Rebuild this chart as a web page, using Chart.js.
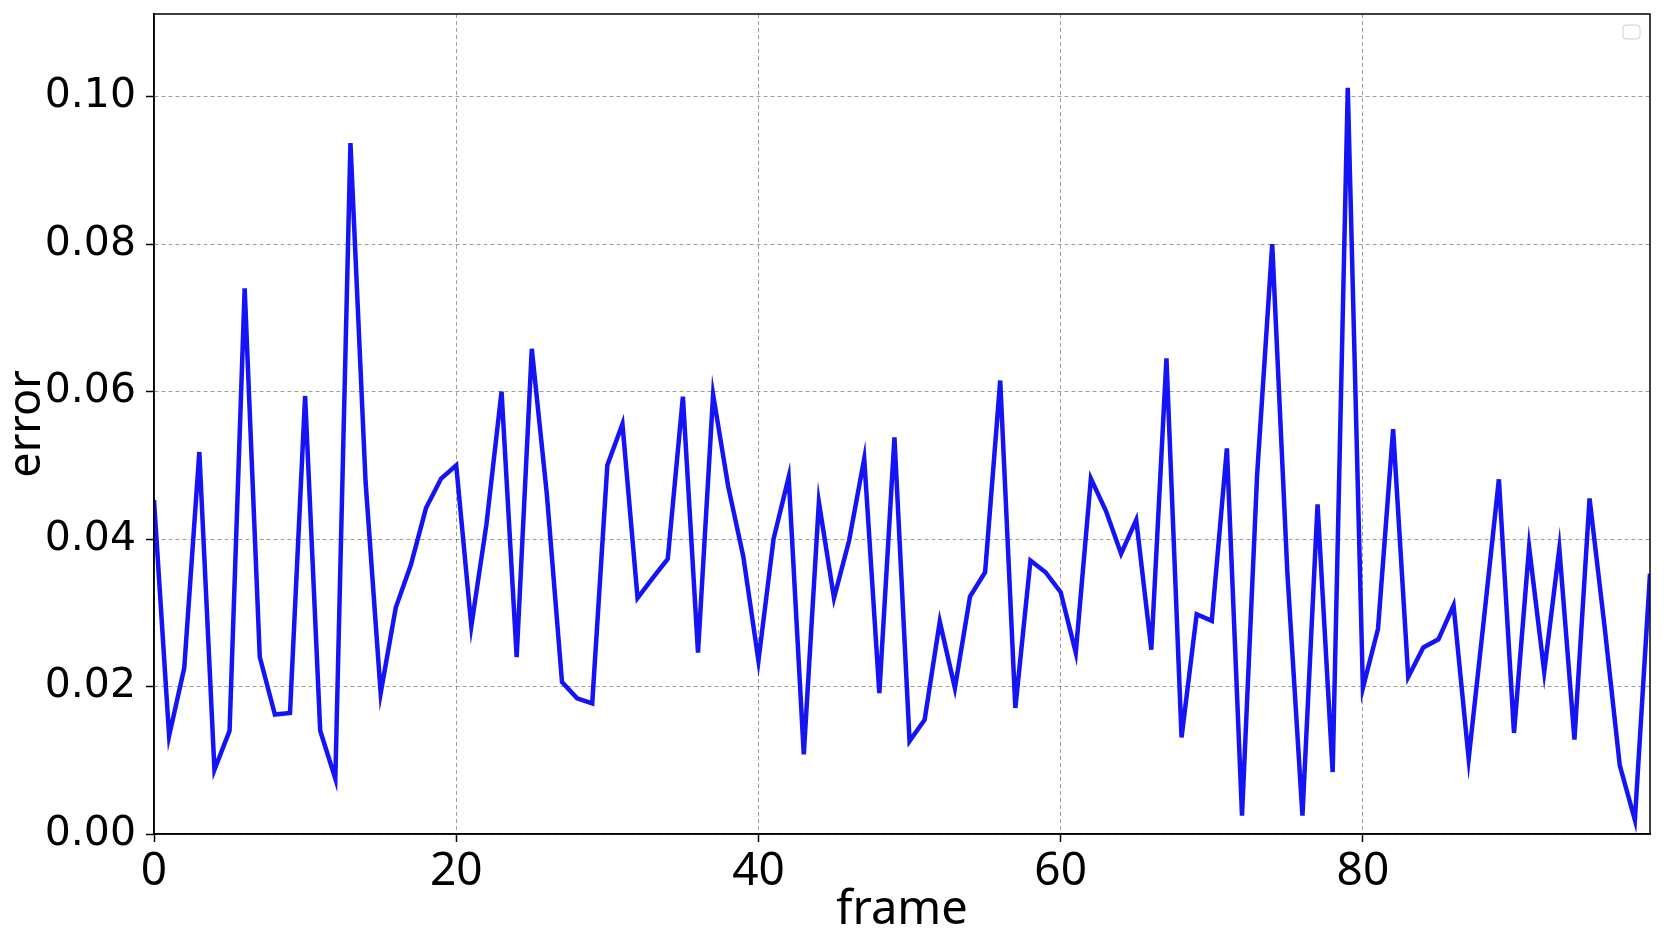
<!DOCTYPE html>
<html>
<head>
<meta charset="utf-8">
<script src="https://cdn.jsdelivr.net/npm/chart.js@4"></script>
<style>
  html, body { margin: 0; padding: 0; background: #fff; }
  #wrap { width: 1664px; height: 939px; }
</style>
</head>
<body>
<div id="wrap"><canvas id="errorChart" width="1664" height="939"></canvas></div>
<script>
// frame index
const frames = [
    0, 1, 2, 3, 4, 5, 6, 7, 8, 9, 10, 11, 12, 13, 14, 15, 16, 17, 18, 19,
    20, 21, 22, 23, 24, 25, 26, 27, 28, 29, 30, 31, 32, 33, 34, 35, 36, 37, 38, 39,
    40, 41, 42, 43, 44, 45, 46, 47, 48, 49, 50, 51, 52, 53, 54, 55, 56, 57, 58, 59,
    60, 61, 62, 63, 64, 65, 66, 67, 68, 69, 70, 71, 72, 73, 74, 75, 76, 77, 78, 79,
    80, 81, 82, 83, 84, 85, 86, 87, 88, 89, 90, 91, 92, 93, 94, 95, 96, 97, 98, 99
];

// error per frame
const errors = [
    0.0453, 0.0133, 0.0225, 0.0518, 0.0087, 0.0140, 0.0740, 0.0240, 0.0162, 0.0164,
    0.0594, 0.0140, 0.0075, 0.0937, 0.0478, 0.0191, 0.0307, 0.0365, 0.0442, 0.0482,
    0.0500, 0.0282, 0.0420, 0.0600, 0.0240, 0.0658, 0.0460, 0.0206, 0.0184, 0.0177,
    0.0500, 0.0556, 0.0320, 0.0347, 0.0373, 0.0593, 0.0246, 0.0596, 0.0471, 0.0376,
    0.0235, 0.0400, 0.0484, 0.0108, 0.0450, 0.0320, 0.0398, 0.0509, 0.0191, 0.0538,
    0.0126, 0.0155, 0.0288, 0.0198, 0.0322, 0.0355, 0.0615, 0.0171, 0.0371, 0.0355,
    0.0328, 0.0246, 0.0482, 0.0438, 0.0380, 0.0426, 0.0250, 0.0645, 0.0131, 0.0298,
    0.0289, 0.0523, 0.0025, 0.0487, 0.0800, 0.0355, 0.0025, 0.0447, 0.0084, 0.1012,
    0.0198, 0.0278, 0.0549, 0.0213, 0.0253, 0.0264, 0.0310, 0.0102, 0.0290, 0.0481,
    0.0137, 0.0389, 0.0220, 0.0387, 0.0128, 0.0455, 0.0280, 0.0093, 0.0019, 0.0353
];

const xTicks = [0, 20, 40, 60, 80];
const yTicks = [0.00, 0.02, 0.04, 0.06, 0.08, 0.10];

const yMax = 0.1112;
const xMax = 99;

// matplotlib-like frame and the empty legend box top right
const framePlugin = {
    id: 'frameBox',
    afterDraw(chart) {
        const { ctx, chartArea: a } = chart;
        ctx.save();
        ctx.strokeStyle = '#000';
        ctx.lineWidth = 1.5;
        ctx.strokeRect(a.left, a.top, a.right - a.left, a.bottom - a.top);

        // empty legend
        ctx.strokeStyle = '#cfcfcf';
        ctx.lineWidth = 1;
        ctx.beginPath();
        ctx.roundRect(a.right - 27, a.top + 11, 17, 14, 3);
        ctx.stroke();
        ctx.restore();
    }
};

const noto = (size) => ({ family: "'Noto Sans', 'DejaVu Sans'", size: size });

function buildChart() {
    const ctx = document.getElementById('errorChart').getContext('2d');
    new Chart(ctx, {
        type: 'line',
        data: {
            datasets: [{
                label: '',
                data: frames.map((f, i) => ({ x: f, y: errors[i] })),
                borderColor: '#1414f5',
                borderWidth: 4.5,
                pointRadius: 0,
                tension: 0,
                fill: false
            }]
        },
        options: {
            responsive: false,
            animation: false,
            layout: {
                padding: { left: 0, right: 14, top: 14, bottom: 0 }
            },
            plugins: {
                legend: { display: false },
                tooltip: { enabled: false }
            },
            scales: {
                x: {
                    type: 'linear',
                    min: 0,
                    max: xMax,
                    afterFit(scale) {
                        scale.height = 105;
                        scale.paddingLeft = 0;
                        scale.paddingRight = 0;
                    },
                    afterBuildTicks(scale) {
                        scale.ticks = xTicks.map(v => ({ value: v }));
                    },
                    ticks: {
                        includeBounds: false,
                        color: '#000',
                        padding: 2,
                        maxRotation: 0,
                        font: noto(46)
                    },
                    grid: {
                        color: 'rgba(0,0,0,0.38)',
                        lineWidth: 1,
                        tickLength: 8,
                        tickColor: '#000',
                        tickWidth: 1.5
                    },
                    border: { display: true, color: '#000', width: 1.5, dash: [4, 3] },
                    title: {
                        display: true,
                        text: 'frame',
                        color: '#000',
                        padding: { top: 5, bottom: 0 },
                        font: noto(47)
                    }
                },
                y: {
                    min: 0,
                    max: yMax,
                    afterFit(scale) {
                        scale.width = 154;
                        scale.paddingTop = 0;
                        scale.paddingBottom = 0;
                    },
                    afterBuildTicks(scale) {
                        scale.ticks = yTicks.map(v => ({ value: v }));
                    },
                    ticks: {
                        includeBounds: false,
                        color: '#000',
                        padding: 10,
                        callback: v => v.toFixed(2),
                        font: { family: "'DejaVu Sans'", size: 41 }
                    },
                    grid: {
                        color: 'rgba(0,0,0,0.38)',
                        lineWidth: 1,
                        tickLength: 8,
                        tickColor: '#000',
                        tickWidth: 1.5
                    },
                    border: { display: true, color: '#000', width: 1.5, dash: [4, 3] },
                    title: {
                        display: true,
                        text: 'error',
                        color: '#000',
                        padding: { top: 0, bottom: 0 },
                        font: noto(45)
                    }
                }
            }
        },
        plugins: [framePlugin]
    });
}

document.addEventListener('DOMContentLoaded', buildChart);
</script>
</body>
</html>
